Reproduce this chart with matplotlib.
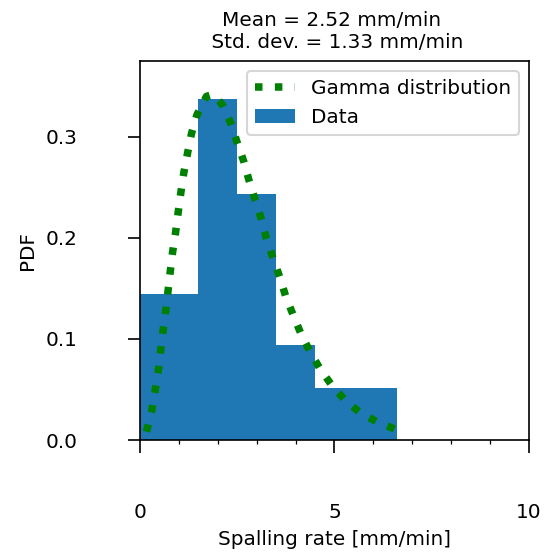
import matplotlib
matplotlib.use('Agg')
import matplotlib.pyplot as plt
from matplotlib.ticker import MultipleLocator

# histogram of measured spalling rates (density normalised)
bin_edges = [0.0, 1.5, 2.5, 3.5, 4.5, 6.6]
bin_density = [0.144, 0.337, 0.243, 0.094, 0.0515]

# fitted gamma pdf, sampled along the data range
gamma_x = [0.165, 0.293, 0.378, 0.463, 0.525, 0.584, 0.653, 0.713, 0.772, 0.834,
           0.911, 0.978, 1.047, 1.124, 1.219, 1.322, 1.466, 1.708, 1.88, 2.12,
           2.333, 2.495, 2.668, 2.804, 2.959, 3.118, 3.252, 3.422, 3.594, 3.748,
           3.936, 4.134, 4.366, 4.631, 4.924, 5.284, 5.670, 6.123, 6.596]
gamma_pdf = [0.0082, 0.0273, 0.0465, 0.0663, 0.0861, 0.1059, 0.1253, 0.1451, 0.165, 0.185,
             0.2045, 0.2244, 0.2442, 0.264, 0.2832, 0.303, 0.322, 0.340, 0.342, 0.3317,
             0.3135, 0.2947, 0.2755, 0.2567, 0.2376, 0.2186, 0.199, 0.1798, 0.161, 0.1419,
             0.1238, 0.1055, 0.0877, 0.0703, 0.0545, 0.0389, 0.0267, 0.0174, 0.0102]

mean_rate = 2.52
std_rate = 1.33

plt.rcParams['font.size'] = 9.6

fig = plt.figure(figsize=(547 / 150, 553 / 150), dpi=150)
ax = fig.add_axes([0.256, 0.2043, 0.711, 0.6854])

ax.plot(gamma_x, gamma_pdf, ':', color='green', lw=3.6, label='Gamma distribution')
ax.hist(bin_edges[:-1], bins=bin_edges, weights=bin_density, color='#1f77b4',
        label='Data')

ax.set_xlim(0, 10)
ax.set_ylim(0, 0.375)
ax.xaxis.set_major_locator(MultipleLocator(5))
ax.xaxis.set_minor_locator(MultipleLocator(1))
ax.yaxis.set_major_locator(MultipleLocator(0.1))
ax.tick_params(which='major', length=6, pad=24)
ax.tick_params(which='minor', length=2)

ax.set_xlabel('Spalling rate [mm/min]')
ax.set_ylabel('PDF')
ax.legend(loc='upper right')
ax.set_title(f'Mean = {mean_rate:.2f} mm/min \n Std. dev. = {std_rate:.2f} mm/min',
             fontsize='medium')

fig.savefig('out.png', dpi=150)
